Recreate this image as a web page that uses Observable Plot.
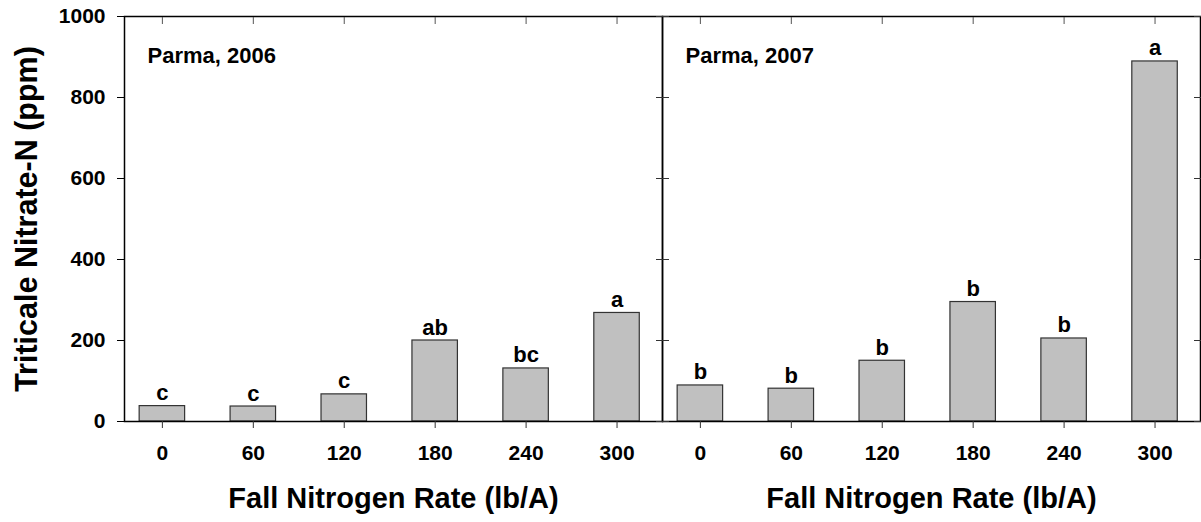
<!DOCTYPE html>
<html><head><meta charset="utf-8">
<script src="https://cdn.jsdelivr.net/npm/d3@7"></script>
<script src="https://cdn.jsdelivr.net/npm/@observablehq/plot@0.6"></script>
<style>body{margin:0;background:#fff}</style>
</head><body><div id="chart"></div>
<script>
const panelNames = ["Parma, 2006", "Parma, 2007"];
const rates = [0, 60, 120, 180, 240, 300];
const nitrate2006 = [38, 37, 67, 200, 131, 268];
const nitrate2007 = [89, 81, 150, 295, 205, 889];
const letters2006 = ["c", "c", "c", "ab", "bc", "a"];
const letters2007 = ["b", "b", "b", "b", "b", "a"];
const yTicks = [0, 200, 400, 600, 800, 1000];
const xTitle = "Fall Nitrogen Rate (lb/A)";
const yTitle = "Triticale Nitrate-N (ppm)";

const data = [
  ...rates.map((r, i) => ({panel: panelNames[0], rate: r, value: nitrate2006[i], letter: letters2006[i]})),
  ...rates.map((r, i) => ({panel: panelNames[1], rate: r, value: nitrate2007[i], letter: letters2007[i]}))
];
const halfBar = 15;

const chart = Plot.plot({
  width: 1201, height: 522,
  marginLeft: 124, marginRight: 1, marginTop: 16, marginBottom: 101,
  style: {fontFamily: '"Liberation Sans", Arial, sans-serif', fontWeight: "bold", fontSize: "21px", color: "black", background: "white", overflow: "visible"},
  fx: {domain: panelNames, padding: 0, axis: null},
  x: {domain: [-25, 330], axis: null},
  y: {domain: [0, 1000], axis: null},
  marks: [
    Plot.rectY(data, {fx: "panel", x1: d => d.rate - halfBar, x2: d => d.rate + halfBar, y: "value", fill: "#c0c0c0", stroke: "#333", strokeWidth: 1.2}),
    Plot.text(data, {fx: "panel", x: "rate", y: "value", text: "letter", lineAnchor: "bottom", dy: -6, fontSize: 22, fontWeight: "bold", fill: "black"}),
    Plot.frame({stroke: "black", strokeWidth: 1.5}),
    Plot.axisY(yTicks, {anchor: "left", tickSize: 7, tickPadding: 12, tickFormat: d => String(d), label: null, fontSize: 21, fontWeight: "bold", facetAnchor: "left"}),
    Plot.axisY(yTicks, {anchor: "right", tickSize: 7, dx: -7, fill: "none", label: null, facetAnchor: null, stroke: "#333"}),
    Plot.axisY(yTicks, {anchor: "left", tickSize: 7, dx: 7, fill: "none", label: null, facetAnchor: "right", stroke: "#333"}),
    Plot.axisX(rates, {anchor: "top", tickSize: 7, dy: 7, fill: "none", label: null, facetAnchor: null, stroke: "#555"}),
    Plot.axisX(rates, {anchor: "bottom", tickSize: 7, tickPadding: 17, tickFormat: d => String(d), label: null, fontSize: 21, fontWeight: "bold", facetAnchor: null, stroke: "#333"}),
    Plot.text(panelNames, {fx: d => d, text: d => d, frameAnchor: "top-left", textAnchor: "start", lineAnchor: "top", dx: 23, dy: 31, fontSize: 22, fontWeight: "bold"}),
    Plot.text(panelNames, {fx: d => d, text: () => xTitle, frameAnchor: "bottom", lineAnchor: "top", dy: 66, fontSize: 29, fontWeight: "bold"}),
    Plot.text([panelNames[0]], {fx: d => d, text: () => yTitle, frameAnchor: "left", textAnchor: "middle", lineAnchor: "middle", rotate: -90, dx: -97, fontSize: 30.5, fontWeight: "bold"})
  ]
});
document.getElementById("chart").append(chart);
</script>
</body></html>
